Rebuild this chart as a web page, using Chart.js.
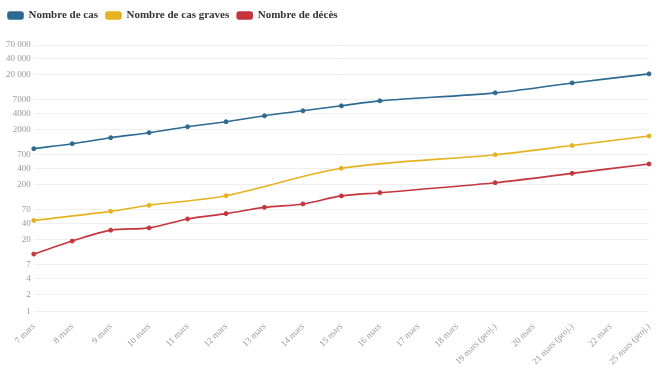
<!DOCTYPE html>
<html>
<head>
<meta charset="utf-8">
<script src="https://cdn.jsdelivr.net/npm/chart.js@4"></script>
<style>
  body { margin: 0; background: #fff; }
  #wrap { width: 661px; height: 369px; }
</style>
</head>
<body>
<div id="wrap"><canvas id="mycanvas" width="661" height="369"></canvas></div>
<script>
// dates (some days only have projections, others nothing)
var jours = ['7 mars', '8 mars', '9 mars', '10 mars', '11 mars', '12 mars', '13 mars', '14 mars',
	'15 mars', '16 mars', '17 mars', '18 mars', '19 mars (proj.)', '20 mars', '21 mars (proj.)',
	'22 mars', '25 mars (proj.)'];

var cas = [910, 1120, 1440, 1780, 2280, 2810, 3610, 4450, 5480, 6750, null, null, 9440, null, 14300, null, 20900];
var casGraves = [45, null, 66, 85, null, 127, null, null, 400, null, null, null, 707, null, 1040, null, 1550];
var deces = [11, 19, 30, 33, 48, 60, 78, 90, 126, 144, null, null, 219, null, 324, null, 480];

// y ticks shown on the log axis
var yTicks = [1, 2, 4, 7, 20, 40, 70, 200, 400, 700, 2000, 4000, 7000, 20000, 40000, 70000];
var yTickLabels = ['1', '2', '4', '7', '20', '40', '70', '200', '400', '700', '2000', '4000', '7000', '20 000', '40 000', '70 000'];

var serif = "'Liberation Serif', 'DejaVu Serif', serif";

function serie(label, data, color) {
	return {
		label: label,
		data: data,
		borderColor: color,
		backgroundColor: color,
		pointBackgroundColor: color,
		pointBorderColor: color,
		borderWidth: 1.6,
		pointRadius: 2,
		pointBorderWidth: 1,
		tension: 0.3,
		spanGaps: true,
		fill: false
	};
}

// more room under the legend, and legend pulled back to the left edge
var legendGap = {
	id: 'legendGap',
	beforeInit: function(chart) {
		var fit = chart.legend.fit;
		chart.legend.fit = function() {
			fit.bind(chart.legend)();
			this.height += 14;
		};
	},
	afterLayout: function(chart) {
		chart.legend.left -= 3;
	}
};

var ctx = document.getElementById('mycanvas');

var LineGraph = new Chart(ctx, {
	type: 'line',
	data: {
		labels: jours,
		datasets: [
			serie('Nombre de cas', cas, '#2c6a91'),
			serie('Nombre de cas graves', casGraves, '#e6b21f'),
			serie('Nombre de décès', deces, '#c5353e')
		]
	},
	plugins: [legendGap],
	options: {
		responsive: false,
		animation: false,
		layout: { padding: { left: 3, right: 12, top: 2, bottom: 0 } },
		plugins: {
			legend: {
				position: 'top',
				align: 'start',
				labels: {
					boxWidth: 15,
					boxHeight: 7,
					useBorderRadius: true,
					borderRadius: 2,
					padding: 8,
					color: '#333',
					font: { family: serif, size: 11, weight: 'bold' }
				}
			},
			tooltip: { enabled: false }
		},
		scales: {
			x: {
				grid: { display: false },
				border: { display: false },
				ticks: {
					minRotation: 45,
					maxRotation: 45,
					autoSkip: false,
					padding: 2,
					color: '#999',
					font: { family: serif, size: 9 }
				}
			},
			y: {
				type: 'logarithmic',
				min: 1,
				max: 70000,
				border: { display: false },
				grid: { color: '#efefef', drawTicks: false },
				afterBuildTicks: function(axis) {
					axis.ticks = yTicks.map(function(v) { return { value: v }; });
				},
				ticks: {
					padding: 3,
					color: '#999',
					font: { family: serif, size: 9 },
					callback: function(value) {
						var i = yTicks.indexOf(value);
						return i >= 0 ? yTickLabels[i] : '';
					}
				}
			}
		}
	}
});
</script>
</body>
</html>
